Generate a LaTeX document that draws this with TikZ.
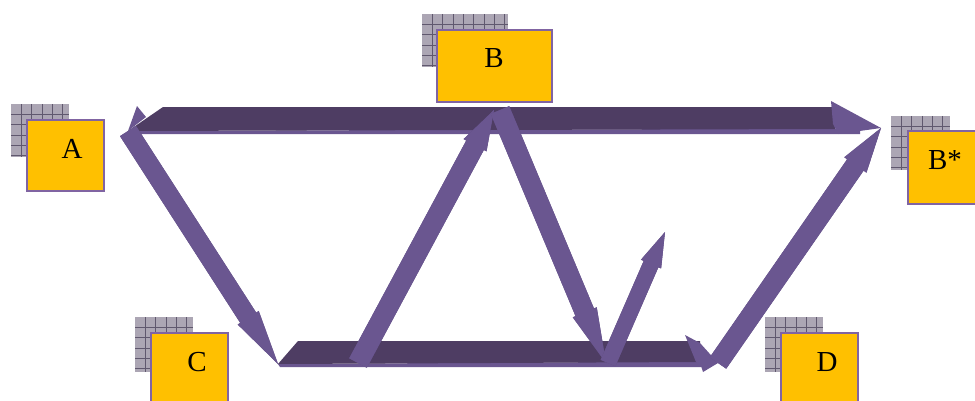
\documentclass[tikz,border=0pt]{standalone}
\usepackage{fontspec}
\setmainfont{Liberation Serif}
\usetikzlibrary{calc}
\definecolor{dkp}{RGB}{78,61,99}
\definecolor{ltp}{RGB}{106,86,144}
\definecolor{edp}{RGB}{96,77,131}
\definecolor{boxy}{RGB}{255,192,0}
\definecolor{boxb}{RGB}{128,100,162}
\definecolor{hatchbg}{RGB}{172,166,180}
\definecolor{hatchln}{RGB}{96,88,110}
\tikzset{
  ybox/.style={draw=boxb, line width=2pt, fill=boxy, inner sep=0pt, anchor=north west},
  lbl/.style={font=\fontsize{29}{30}\selectfont, inner sep=0pt},
  hline/.style={hatchln, line width=0.55pt},
  face/.style={fill=ltp},
  edge/.style={fill=edp},
  topface/.style={fill=dkp},
}
\newcommand\hatchbox[5]{% name, x, y, w, h
  \fill[hatchbg] (#2,#3) coordinate (#1) rectangle ++(#4,#5);
  \begin{scope}
    \clip (#2,#3) rectangle ++(#4,#5);
    \foreach \i in {1,...,9}{
      \draw[hline] ($(#1)+(\i*10.3,0)$) -- ++(0,#5);
      \draw[hline] ($(#1)+(0,\i*10.3)$) -- ++(#4,0);
    }
  \end{scope}
}
% flat arrow: start, tip, half shaft, half head, head length, style
\newcommand\flatarrow[6]{%
  \path ($(#2)!#5!(#1)$) coordinate (fah);
  \fill[#6] ($(#1)!#3!90:(#2)$) -- ($(fah)!#3!90:(#2)$) -- ($(fah)!#4!90:(#2)$)
    -- (#2) -- ($(fah)!#4!-90:(#2)$) -- ($(fah)!#3!-90:(#2)$) -- ($(#1)!#3!-90:(#2)$) -- cycle;
}
\begin{document}
\begin{tikzpicture}[x=1pt,y=-1pt]
\clip (0,0) rectangle (975,400);
\fill[white] (0,0) rectangle (975,400);

% shadow hatch boxes
\hatchbox{hA}{11}{104}{58}{53}
\hatchbox{hB}{422}{14}{86}{53}
\hatchbox{hBs}{891}{116}{59}{54}
\hatchbox{hC}{135}{317}{58}{55}
\hatchbox{hD}{765}{317}{58}{55}

% boxes
\node[ybox, minimum width=77pt, minimum height=71pt] (A) at (26,119) {};
\node[ybox, minimum width=115pt, minimum height=72pt] (B) at (436,29) {};
\node[ybox, minimum width=85pt, minimum height=73pt] (Bs) at (907,130) {};
\node[ybox, minimum width=77pt, minimum height=80pt] (C) at (150,332) {};
\node[ybox, minimum width=77pt, minimum height=80pt] (D) at (780,332) {};
\node[lbl] (tA) at (72,149) {A};
\node[lbl] (tB) at (494,58) {B};
\node[lbl] (tBs) at (945,160) {B*};
\node[lbl] (tC) at (197,362) {C};
\node[lbl] (tD) at (827,362) {D};

% connector end points
\coordinate (a1) at (128,131);
\coordinate (bs1) at (881,128);
\coordinate (c1) at (278,364);
\coordinate (c2) at (358,363);
\coordinate (b1) at (494,110);
\coordinate (b2) at (500,110);
\coordinate (x1) at (606,363);
\coordinate (x2) at (608,363);
\coordinate (y1) at (665,232);
\coordinate (d1) at (718,363);

% top bar A <-> B*
\fill[face] (a1) -- (860,128.5) -- (860,134) -- (140,134) -- cycle;
\fill[topface] (a1) -- ($(a1)+(35,-24)$) -- (835,107) -- (835,129) -- cycle;
\fill[face] (a1) -- (137,106) -- (146,117) -- cycle;
\fill[face] (831,101) -- (bs1) -- (838,134) -- (833,124) -- cycle;

% bottom bar C -> D
\fill[face] (c1) -- (705,361.5) -- (705,367) -- (280,367) -- cycle;
\fill[topface] (c1) -- ($(c1)+(20,-23)$) -- (700,341) -- (700,362) -- cycle;
\fill[face] (685,335) -- (700,343) -- (d1) -- (703,372) -- (701,366) -- (696,362) -- cycle;

% diagonal arrows
\flatarrow{a1}{c1}{9.5pt}{12.5pt}{55pt}{edge, shift={(1.5,0.5)}}
\flatarrow{a1}{c1}{9.5pt}{12.5pt}{55pt}{face}
\flatarrow{c2}{b1}{10pt}{13pt}{40pt}{edge, shift={(-1.5,0.5)}}
\flatarrow{c2}{b1}{10pt}{13pt}{40pt}{face}
\flatarrow{b2}{x1}{10pt}{13pt}{55pt}{edge, shift={(1.5,0.5)}}
\flatarrow{b2}{x1}{10pt}{13pt}{55pt}{face}
\flatarrow{x2}{y1}{8pt}{11pt}{35pt}{edge, shift={(1.5,0.5)}}
\flatarrow{x2}{y1}{8pt}{11pt}{35pt}{face}
\flatarrow{d1}{bs1}{10pt}{13.5pt}{45pt}{edge, shift={(-1.5,0.5)}}
\flatarrow{d1}{bs1}{10pt}{13.5pt}{45pt}{face}
\end{tikzpicture}
\end{document}
